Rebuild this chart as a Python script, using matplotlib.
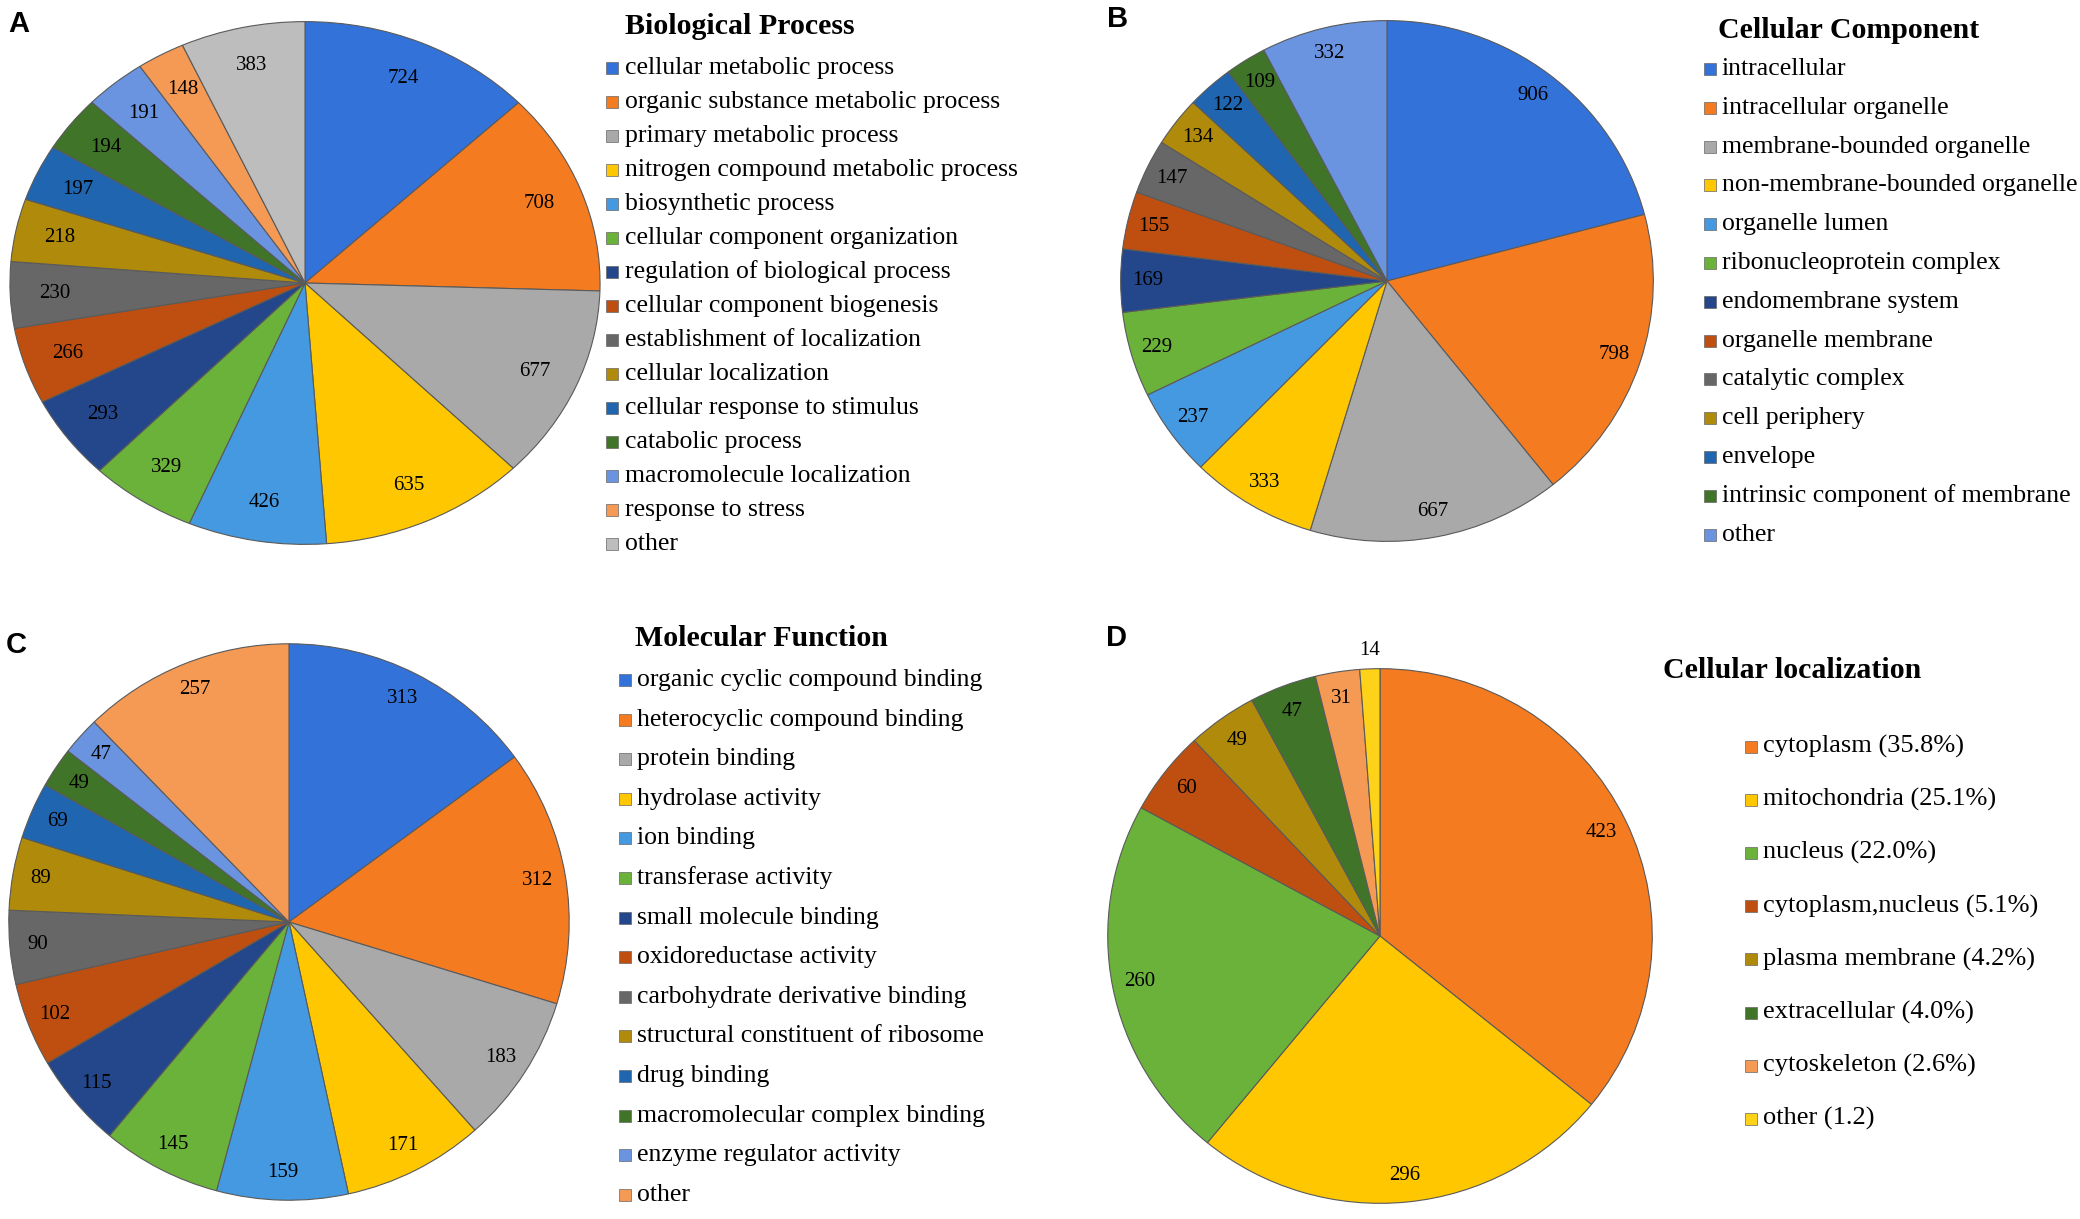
import numpy as np
import matplotlib.pyplot as plt
from matplotlib.patches import Rectangle

W, H = 2080, 1219

# panel A - biological process
bp_labels = ['cellular metabolic process', 'organic substance metabolic process',
             'primary metabolic process', 'nitrogen compound metabolic process',
             'biosynthetic process', 'cellular component organization',
             'regulation of biological process', 'cellular component biogenesis',
             'establishment of localization', 'cellular localization',
             'cellular response to stimulus', 'catabolic process',
             'macromolecule localization', 'response to stress', 'other']
bp_values = [724, 708, 677, 635, 426, 329, 293, 266, 230, 218, 197, 194, 191, 148, 383]

# panel B - cellular component
cc_labels = ['intracellular', 'intracellular organelle', 'membrane-bounded organelle',
             'non-membrane-bounded organelle', 'organelle lumen',
             'ribonucleoprotein complex', 'endomembrane system', 'organelle membrane',
             'catalytic complex', 'cell periphery', 'envelope',
             'intrinsic component of membrane', 'other']
cc_values = [906, 798, 667, 333, 237, 229, 169, 155, 147, 134, 122, 109, 332]

# panel C - molecular function
mf_labels = ['organic cyclic compound binding', 'heterocyclic compound binding',
             'protein binding', 'hydrolase activity', 'ion binding',
             'transferase activity', 'small molecule binding', 'oxidoreductase activity',
             'carbohydrate derivative binding', 'structural constituent of ribosome',
             'drug binding', 'macromolecular complex binding',
             'enzyme regulator activity', 'other']
mf_values = [313, 312, 183, 171, 159, 145, 115, 102, 90, 89, 69, 49, 47, 257]

# panel D - cellular localization
loc_labels = ['cytoplasm (35.8%)', 'mitochondria (25.1%)', 'nucleus (22.0%)',
              'cytoplasm,nucleus (5.1%)', 'plasma membrane (4.2%)',
              'extracellular (4.0%)', 'cytoskeleton (2.6%)', 'other (1.2)']
loc_values = [423, 296, 260, 60, 49, 47, 31, 14]

# excel-like palette
pal = ['#3272D9', '#F47B20', '#A9A9A9', '#FFC700', '#4499E0', '#6AB23A', '#23478A',
       '#BF4F10', '#676767', '#B08A0A', '#2065B0', '#3F7429', '#6A93E0', '#F49A55',
       '#BDBDBD']
loc_colors = ['#F47B20', '#FFC700', '#6AB23A', '#BF4F10', '#B08A0A', '#3F7429',
              '#F49A55', '#FFD21A']

plt.rcParams['font.family'] = ['Liberation Serif', 'DejaVu Serif']

fig = plt.figure(figsize=(W / 100, H / 100), dpi=100)


def draw_pie(cx, cy, rx, ry, values, colors, rlab, outside=()):
    # axes placed in pixel coords so the pie can be slightly elliptical
    ax = fig.add_axes([(cx - rx) / W, 1 - (cy + ry) / H, 2 * rx / W, 2 * ry / H])
    wedges, _ = ax.pie(values, colors=colors, startangle=90, counterclock=False,
                       wedgeprops=dict(edgecolor='#5a5a5a', linewidth=0.8))
    ax.set_aspect('auto')
    ax.set_xlim(-1.01, 1.01)
    ax.set_ylim(-1.01, 1.01)
    for i, (w, v) in enumerate(zip(wedges, values)):
        ang = np.deg2rad((w.theta1 + w.theta2) / 2)
        r = 1.07 if i in outside else rlab
        ax.text(r * np.cos(ang), r * np.sin(ang), str(v), ha='center', va='center',
                fontsize=15)
    ax.axis('off')


def draw_legend(title, tx, ty, x_mark, x_text, y0, step, labels, colors, fs):
    fig.text(tx / W, 1 - ty / H, title, ha='center', va='center',
             fontsize=21.5, fontweight='bold')
    for i, (lab, c) in enumerate(zip(labels, colors)):
        y = y0 + i * step
        fig.add_artist(Rectangle((x_mark / W, 1 - (y + 6) / H), 12 / W, 12 / H,
                                 transform=fig.transFigure, facecolor=c,
                                 edgecolor='#666666', lw=0.5))
        fig.text(x_text / W, 1 - y / H, lab, ha='left', va='center', fontsize=fs)


draw_pie(305, 283, 298, 264, bp_values, pal[:15], 0.85)
draw_legend('Biological Process', 740, 27, 606, 625, 68, 34.0, bp_labels, pal[:15], 18.5)

draw_pie(1387, 281, 269, 263, cc_values, pal[:13], 0.9)
draw_legend('Cellular Component', 1849, 30, 1704, 1722, 69, 38.8, cc_labels, pal[:13], 18.5)

draw_pie(289, 922, 283, 281, mf_values, pal[:14], 0.9)
draw_legend('Molecular Function', 761, 639, 619, 637, 680, 39.6, mf_labels, pal[:14], 18.5)

draw_pie(1380, 936, 275, 270, loc_values, loc_colors, 0.9, outside=(7,))
draw_legend('Cellular localization', 1792, 670, 1745, 1763, 746.5, 53.2, loc_labels,
            loc_colors, 19)

for letter, (x, y) in zip('ABCD', [(18.6, 24), (1118, 19), (16, 645), (1117, 638)]):
    fig.text(x / W, 1 - y / H, letter, ha='center', va='center', fontsize=21,
             fontweight='bold', family=['Liberation Sans', 'DejaVu Sans'])

fig.savefig('out.png', dpi=100, facecolor='white')
